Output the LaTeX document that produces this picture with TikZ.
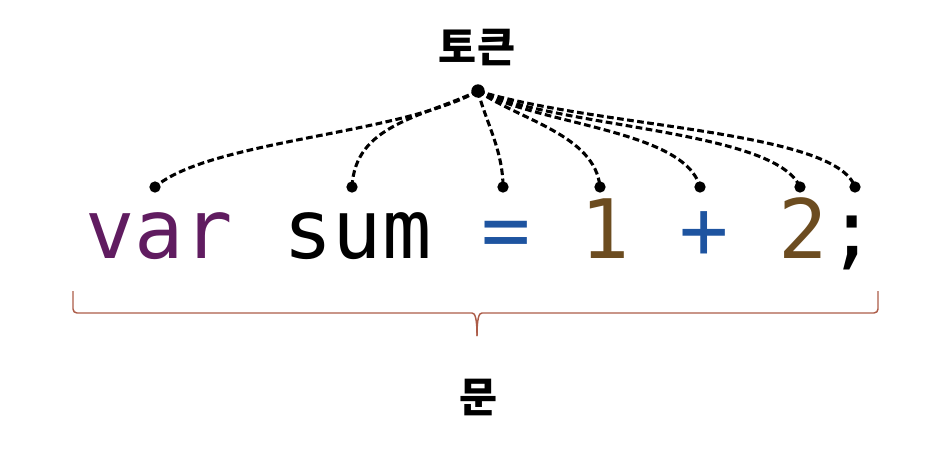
\documentclass[tikz,border=0pt]{standalone}
\usepackage{fontspec}
\newfontfamily\kr{Noto Sans CJK KR}
\newfontfamily\codefont{DejaVu Sans Mono}
\definecolor{kwpurple}{RGB}{96,28,96}
\definecolor{opblue}{RGB}{30,84,160}
\definecolor{numbrown}{RGB}{108,76,32}
\definecolor{bracecol}{RGB}{172,92,72}
\begin{document}
\begin{tikzpicture}[x=0.75pt,y=-0.75pt,
  code/.style={inner sep=0pt,anchor=base west,font=\codefont\fontsize{61.5}{70}\selectfont},
  label/.style={inner sep=0pt,font=\kr\bfseries\fontsize{31}{36}\selectfont},
  tokdot/.style={circle,fill=black,inner sep=0pt,minimum size=8.5pt},
  hubdot/.style={circle,fill=black,inner sep=0pt,minimum size=10pt},
  link/.style={line width=2.3pt,dash pattern=on 5pt off 2.6pt}]
\useasboundingbox (0,0) rectangle (930,450);
% label top
\node[label] (token) at (477,48) {토큰};
\node[hubdot] (hub) at (478,91) {};
% code tokens
\node[code,text=kwpurple] (tvar) at (85,258) {var};
\node[code,text=black] (tsum) at (283,258) {sum};
\node[code,text=opblue] (teq) at (481,258) {=};
\node[code,text=numbrown] (tone) at (580,258) {1};
\node[code,text=opblue] (tplus) at (679,258) {+};
\node[code,text=numbrown] (ttwo) at (778,258) {2};
\node[code,text=black] (tsemi) at (827.5,258) {;};
% dots
\node[tokdot] (dvar) at (155,187) {};
\node[tokdot] (dsum) at (352,187) {};
\node[tokdot] (deq) at (503,187) {};
\node[tokdot] (done) at (600,187) {};
\node[tokdot] (dplus) at (700,187) {};
\node[tokdot] (dtwo) at (800,187) {};
\node[tokdot] (dsemi) at (855,187) {};
% links
\draw[link] (hub.center) .. controls (400,135) and (210,140) .. (dvar.center);
\draw[link] (hub.center) .. controls (420,118) and (355,125) .. (dsum.center);
\draw[link] (hub.center) .. controls (485,120) and (503,150) .. (deq.center);
\draw[link] (hub.center) .. controls (520,120) and (595,135) .. (done.center);
\draw[link] (hub.center) .. controls (540,125) and (685,130) .. (dplus.center);
\draw[link] (hub.center) .. controls (560,128) and (775,130) .. (dtwo.center);
\draw[link] (hub.center) .. controls (600,128) and (835,130) .. (dsemi.center);
% brace
\coordinate (bl) at (73,291);
\coordinate (br) at (878,291);
\coordinate (btip) at (477,336);
\draw[bracecol,line width=1.1pt,rounded corners=3pt]
  (bl) -- (73,313) -- (468,313) .. controls (475,313) and (477,318) .. (btip);
\draw[bracecol,line width=1.1pt,rounded corners=3pt]
  (br) -- (878,313) -- (486,313) .. controls (479,313) and (477,318) .. (btip);
% bottom label
\node[label] (stmt) at (479,397) {문};
\end{tikzpicture}
\end{document}
